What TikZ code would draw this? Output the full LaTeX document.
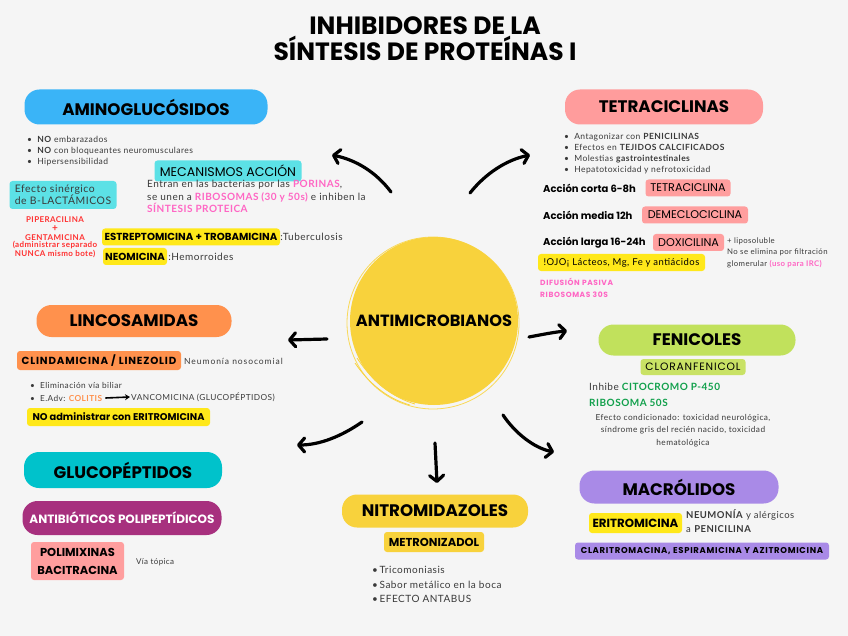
\documentclass[tikz,border=0pt]{standalone}
\usepackage{fontspec}
\setmainfont{Lato}[LetterSpace=5]
\newfontfamily\pop{Poppins}
\newfontfamily\popls{Poppins}[LetterSpace=8]
\usetikzlibrary{arrows.meta}
\definecolor{bg}{HTML}{F5F5F5}
\definecolor{cBlue}{HTML}{3AB4F7}
\definecolor{cCyan}{HTML}{5CE1E6}
\definecolor{cYellow}{HTML}{F8D23C}
\definecolor{cYBox}{HTML}{FFE81A}
\definecolor{cPinkBlob}{HTML}{FF9C9C}
\definecolor{cPinkBox}{HTML}{FF9E9E}
\definecolor{cPink}{HTML}{FF66C4}
\definecolor{cRed}{HTML}{FF3131}
\definecolor{cOrange}{HTML}{FF914D}
\definecolor{cGreenBlob}{HTML}{C1E15C}
\definecolor{cGreenBox}{HTML}{C9E265}
\definecolor{cGreen}{HTML}{12A04C}
\definecolor{cTeal}{HTML}{00C2CB}
\definecolor{cMagenta}{HTML}{A7307E}
\definecolor{cPurple}{HTML}{A98AE7}
\definecolor{cText}{HTML}{3A3A3A}
\newcommand{\pk}[1]{{\color{cPink}\bfseries #1}}
\begin{document}
\begin{tikzpicture}[x=1pt,y=-1pt,
  blob/.style={rounded corners=15pt, inner sep=0pt, text=black, font=\pop\bfseries\fontsize{16.7}{19}\selectfont},
  tbox/.style={rounded corners=3pt, inner sep=0pt, text=black},
  body/.style={text=cText, inner sep=0pt, align=left},
  arr/.style={line width=3.2pt, line cap=round, line join=round, -{Straight Barb[length=6pt,width=14pt,round]}}]
\fill[bg] (0,0) rectangle (848,636);
\useasboundingbox (0,0) rectangle (848,636);

% title
\node[font=\pop\bfseries\fontsize{25}{26}\selectfont, align=center, text=black] (title) at (425,39) {INHIBIDORES DE LA\\SÍNTESIS DE PROTEÍNAS I};

% centre
\draw[cYellow!85!white, line width=0.8pt] (433,323) circle (86);
\node[circle, fill=cYellow, minimum size=168pt, inner sep=0pt, font=\pop\bfseries\fontsize{16.2}{18}\selectfont] (centre) at (434,321) {ANTIMICROBIANOS};
\draw[cYellow, line width=0.8pt] (357,358) .. controls (375,385) and (395,398) .. (415,404);
\draw[cYellow, line width=0.8pt] (355,363) .. controls (372,388) and (392,400) .. (410,405);

% arrows
\coordinate (a1s) at (391,192); \coordinate (a1e) at (332,155);
\coordinate (a2s) at (470,193); \coordinate (a2e) at (530,155);
\coordinate (a3s) at (529,337); \coordinate (a3e) at (567,331);
\coordinate (a4s) at (327,339); \coordinate (a4e) at (288,340);
\coordinate (a5s) at (362,422); \coordinate (a5e) at (297,445);
\coordinate (a6s) at (435,443); \coordinate (a6e) at (437,483);
\coordinate (a7s) at (503,415); \coordinate (a7e) at (554,452);
\draw[arr] (a1s) .. controls (376,172) and (356,160) .. (a1e);
\draw[arr] (a2s) .. controls (485,174) and (506,160) .. (a2e);
\draw[arr] (a3s) .. controls (545,334) and (555,332) .. (a3e);
\draw[arr] (a4s) -- (a4e);
\draw[arr] (a5s) .. controls (342,436) and (320,445) .. (a5e);
\draw[arr] (a6s) -- (a6e);
\draw[arr] (a7s) .. controls (515,433) and (534,448) .. (a7e);

% AMINOGLUCOSIDOS
\node[blob, fill=cBlue, minimum width=243pt, minimum height=35pt] (amino) at (146,107) {AMINOGLUCÓSIDOS};
\node[body, anchor=west, font=\fontsize{8.5}{11}\selectfont] (aminob) at (27,151) {\textbullet~~\textbf{NO} embarazados\\\textbullet~~\textbf{NO} con bloqueantes neuromusculares\\\textbullet~~Hipersensibilidad};
\node[tbox, fill=cCyan, minimum width=147pt, minimum height=21pt, font=\pop\fontsize{12.6}{14}\selectfont] (mec) at (228,171) {MECANISMOS ACCIÓN};
\node[body, anchor=north west, font=\fontsize{10}{12.5}\selectfont] (mectxt) at (147,180) {Entran en las bacterias por las \pk{PORINAS},\\se unen a \pk{RIBOSOMAS (30 y 50s)} e inhiben la\\\pk{SÍNTESIS PROTEICA}};
\node[tbox, fill=cCyan, minimum width=107pt, minimum height=28pt, align=left, font=\fontsize{10.4}{12}\selectfont, text=cText] (sin) at (63,195) {Efecto sinérgico\\de B-LACTÁMICOS};
\node[text=cRed, font=\bfseries\fontsize{8}{9}\selectfont, inner sep=0pt] (r1) at (55,220) {PIPERACILINA};
\node[text=cRed, font=\bfseries\fontsize{10}{10}\selectfont, inner sep=0pt] (r2) at (55,229) {+};
\node[text=cRed, font=\bfseries\fontsize{8}{9}\selectfont, inner sep=0pt] (r3) at (55,237.5) {GENTAMICINA};
\node[text=cRed, font=\bfseries\fontsize{8}{9}\selectfont, inner sep=0pt] (r4) at (55,245.5) {(administrar separado};
\node[text=cRed, font=\bfseries\fontsize{8}{9}\selectfont, inner sep=0pt] (r5) at (55,253.5) {NUNCA mismo bote)};
\node[tbox, fill=cYBox, minimum width=178pt, minimum height=17pt, font=\pop\bfseries\fontsize{10.2}{11}\selectfont] (strep) at (191,237) {ESTREPTOMICINA + TROBAMICINA};
\node[body, anchor=west, font=\fontsize{10}{12}\selectfont] (tub) at (strep.east) {:Tuberculosis};
\node[tbox, fill=cYBox, minimum width=64pt, minimum height=17pt, font=\pop\bfseries\fontsize{10.2}{11}\selectfont] (neo) at (135,256.5) {NEOMICINA};
\node[body, anchor=west, font=\fontsize{10}{12}\selectfont] (hem) at ([xshift=1pt]neo.east) {:Hemorroides};

% TETRACICLINAS
\node[blob, fill=cPinkBlob, minimum width=198pt, minimum height=35pt] (tetra) at (664,107) {TETRACICLINAS};
\node[body, anchor=west, font=\fontsize{8.5}{11}\selectfont] (tetrab) at (564,153.5) {\textbullet~~Antagonizar con \textbf{PENICILINAS}\\\textbullet~~Efectos en \textbf{TEJIDOS CALCIFICADOS}\\\textbullet~~Molestias \textbf{gastrointestinales}\\\textbullet~~Hepatotoxicidad y nefrotoxicidad};
\node[body, anchor=west, text=black, font=\pop\bfseries\fontsize{10}{11}\selectfont] (ac1) at (543,188) {Acción corta 6-8h};
\node[tbox, fill=cPinkBox, minimum width=85pt, minimum height=17pt, font=\pop\fontsize{11.2}{12}\selectfont] (tc1) at (688,188) {TETRACICLINA};
\node[body, anchor=west, text=black, font=\pop\bfseries\fontsize{10}{11}\selectfont] (ac2) at (543,215) {Acción media 12h};
\node[tbox, fill=cPinkBox, minimum width=106pt, minimum height=17pt, font=\pop\fontsize{11.2}{12}\selectfont] (tc2) at (695,215) {DEMECLOCICLINA};
\node[body, anchor=west, text=black, font=\pop\bfseries\fontsize{10}{11}\selectfont] (ac3) at (543,243) {Acción larga 16-24h};
\node[tbox, fill=cPinkBox, minimum width=71pt, minimum height=17pt, font=\pop\fontsize{11.2}{12}\selectfont] (tc3) at (688.5,242.5) {DOXICILINA};
\node[body, anchor=north west, font=\fontsize{7.8}{11.5}\selectfont] (lipo) at (727,237.5) {+ liposoluble\\No se elimina por filtración\\glomerular \pk{(uso para IRC)}};
\node[tbox, fill=cYBox, minimum width=167pt, minimum height=17pt, font=\fontsize{9.5}{11}\selectfont] (ojo) at (621.5,262.5) {!OJO¡ Lácteos, Mg, Fe y antiácidos};
\node[body, anchor=north west, text=cPink, font=\popls\bfseries\fontsize{7.5}{12}\selectfont] (dif) at (540,278) {DIFUSIÓN PASIVA\\RIBOSOMAS 30S};

% LINCOSAMIDAS
\node[blob, fill=cOrange, minimum width=195pt, minimum height=32pt] (linco) at (134,321) {LINCOSAMIDAS};
\node[tbox, fill=cOrange, minimum width=164pt, minimum height=19pt, font=\popls\bfseries\fontsize{10.3}{11}\selectfont] (clin) at (99,360.5) {CLINDAMICINA / LINEZOLID};
\node[body, anchor=west, font=\addfontfeature{LetterSpace=11}\fontsize{8.5}{10}\selectfont] (neum) at (184,361) {Neumonía nosocomial};
\node[body, anchor=west, font=\fontsize{8.3}{10}\selectfont] (lb1) at (30,385) {\textbullet~~Eliminación vía biliar};
\node[body, anchor=west, font=\fontsize{8.3}{10}\selectfont] (lb2) at (30,398) {\textbullet~~E.Adv: {\color{cOrange}\bfseries COLITIS}};
\node[body, anchor=west, font=\fontsize{8.3}{10}\selectfont] (vanco) at (131,397) {VANCOMICINA (GLUCOPÉPTIDOS)};
\draw[line width=1.6pt, -{Stealth[length=5pt,width=6pt]}] ([xshift=3pt]lb2.east) -- ([xshift=-1pt]vanco.west);
\node[tbox, fill=cYBox, minimum width=183pt, minimum height=18pt, font=\pop\bfseries\fontsize{9.8}{11}\selectfont] (noadm) at (118.5,417) {NO administrar con ERITROMICINA};

% FENICOLES
\node[blob, fill=cGreenBlob, minimum width=197pt, minimum height=31pt] (feni) at (697,340) {FENICOLES};
\node[tbox, fill=cGreenBox, minimum width=105pt, minimum height=16pt, font=\popls\fontsize{10.7}{12}\selectfont] (clor) at (693,367) {CLORANFENICOL};
\node[body, anchor=west, font=\fontsize{10}{12}\selectfont] (inh) at (589,387) {Inhibe {\color{cGreen}\bfseries CITOCROMO P-450}};
\node[body, anchor=west, text=cGreen, font=\bfseries\fontsize{10}{12}\selectfont] (rib) at (589,403) {RIBOSOMA 50S};
\node[body, align=center, font=\fontsize{8.3}{12.5}\selectfont] (efec) at (683,430.5) {Efecto condicionado: toxicidad neurológica,\\síndrome gris del recién nacido, toxicidad\\hematológica};

% GLUCOPEPTIDOS
\node[blob, fill=cTeal, minimum width=198pt, minimum height=36pt] (gluco) at (123,470) {GLUCOPÉPTIDOS};
\node[blob, fill=cMagenta, text=white, minimum width=199pt, minimum height=34pt, font=\pop\bfseries\fontsize{12}{13}\selectfont] (anti) at (122,518) {ANTIBIÓTICOS POLIPEPTÍDICOS};
\node[tbox, fill=cPinkBox, minimum width=93pt, minimum height=38pt, align=center, font=\pop\bfseries\fontsize{11.5}{18}\selectfont] (poli) at (77.5,561) {POLIMIXINAS\\BACITRACINA};
\node[body, anchor=west, font=\fontsize{8}{9}\selectfont] (via) at (136,562) {Vía tópica};

% NITROMIDAZOLES
\node[blob, fill=cYellow, minimum width=186pt, minimum height=33pt] (nitro) at (435,511) {NITROMIDAZOLES};
\node[tbox, fill=cYellow, minimum width=100pt, minimum height=20pt, font=\pop\bfseries\fontsize{11.5}{12}\selectfont] (metro) at (434,542) {METRONIZADOL};
\node[body, anchor=west, font=\fontsize{10}{14.5}\selectfont] (nitb) at (372,584.5) {\textbullet\,Tricomoniasis\\\textbullet\,Sabor metálico en la boca\\\textbullet\,EFECTO ANTABUS};

% MACROLIDOS
\node[blob, fill=cPurple, minimum width=199pt, minimum height=33pt] (macro) at (679,487) {MACRÓLIDOS};
\node[tbox, fill=cYBox, minimum width=93pt, minimum height=20pt, font=\pop\bfseries\fontsize{11.8}{12}\selectfont] (eri) at (635.5,523) {ERITROMICINA};
\node[body, anchor=north west, font=\fontsize{9.5}{14}\selectfont] (neumo) at (686,509) {\textbf{NEUMONÍA} y alérgicos\\a \textbf{PENICILINA}};
\node[tbox, fill=cPurple, minimum width=254pt, minimum height=17pt, font=\popls\bfseries\fontsize{8.5}{9}\selectfont] (clar) at (702,551) {CLARITROMACINA, ESPIRAMICINA Y AZITROMICINA};
\end{tikzpicture}
\end{document}
